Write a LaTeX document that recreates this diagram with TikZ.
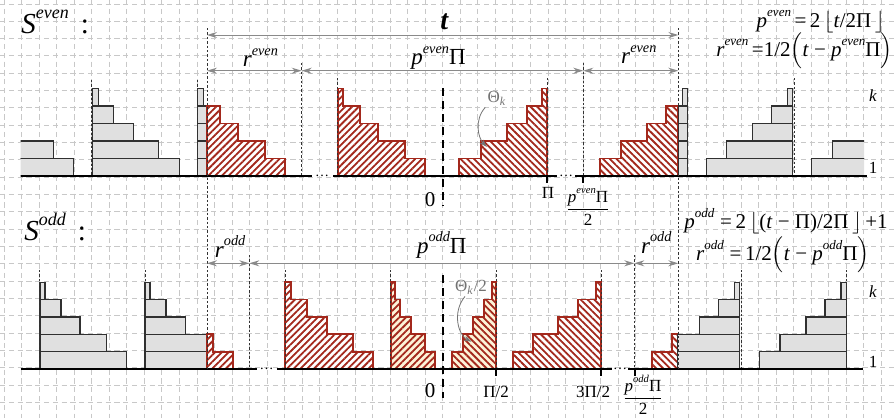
\documentclass[tikz,border=0pt]{standalone}
\usepackage{fontspec}
\usepackage{graphicx}
\setmainfont{Liberation Serif}
\usetikzlibrary{arrows.meta, patterns.meta, calc}
\definecolor{HatchRed}{HTML}{A3281C}
\definecolor{CreamB}{HTML}{FDF3D8}
\definecolor{BarGray}{HTML}{E0E0E0}
\definecolor{BarEdge}{HTML}{303030}
\definecolor{GridGray}{HTML}{C8C8C8}
\definecolor{DimGray}{HTML}{8A8A8A}
\tikzset{
  gridln/.style={draw=GridGray, line width=0.5pt, dash pattern=on 2.6pt off 1.8pt},
  bar/.style={fill=BarGray, draw=BarEdge, line width=0.7pt},
  hatchD/.style={preaction={fill=#1}, draw=HatchRed, line width=0.85pt, pattern={Lines[angle=45,distance=2.4pt,line width=0.9pt]}, pattern color=HatchRed},
  hatchD/.default=white,
  hatchA/.style={preaction={fill=#1}, draw=HatchRed, line width=0.85pt, pattern={Lines[angle=-45,distance=2.4pt,line width=0.9pt]}, pattern color=HatchRed},
  hatchA/.default=white,
  guide/.style={draw=black!80, line width=0.4pt, dash pattern=on 1.2pt off 1pt},
  axis/.style={draw=black, line width=0.6pt},
  zero/.style={draw=black, line width=1pt, dash pattern=on 4pt off 2.5pt},
  tick/.style={draw=black, line width=1pt},
  dim/.style={{Stealth[length=5pt,width=3pt]}-{Stealth[length=5pt,width=3pt]}, draw=DimGray, line width=0.5pt},
  lbl/.style={font=\fontsize{11.5}{13}\selectfont, inner sep=0pt},
  eq/.style={font=\fontsize{10.5}{12}\selectfont, inner sep=0pt},
  ax/.style={font=\fontsize{8.5}{10}\selectfont, inner sep=0pt},
  dotsl/.style={font=\fontsize{7}{8}\selectfont, inner sep=0pt},
  theta/.style={font=\fontsize{8.5}{10}\selectfont, text=black!55, inner sep=1pt},
  pointer/.style={-{Stealth[length=4pt,width=2.5pt]}, draw=black!55, line width=0.4pt}
}
\newcommand{\upix}[2]{\textit{#1}\raisebox{0.5em}{\scalebox{0.62}{\textit{#2}}}}
\newcommand{\stpsize}{17.5}
% staircase: style, fixed edge x, baseline y, free ends bottom to top
\newcommand{\stairs}[4]{\draw[#1] (#2,#3) \foreach \xe [count=\i from 0] in {#4} { -- (\xe,{#3-\stpsize*\i}) -- (\xe,{#3-\stpsize*(\i+1)}) } -| (#2,#3) -- cycle;}
% stacked bars: style, fixed edge x, baseline y, free ends bottom to top
\newcommand{\bars}[4]{\foreach \xe [count=\i from 0] in {#4} {\draw[#1] (#2,{#3-\stpsize*\i}) rectangle (\xe,{#3-\stpsize*(\i+1)});}}

\begin{document}
\begin{tikzpicture}[x=0.5pt, y=-0.5pt]
  \useasboundingbox (0,0) rectangle (895,418);
  \fill[white] (0,0) rectangle (895,418);
  % grid
  \foreach \i in {0,...,50} \draw[gridln] ({4+17.55*\i},0) -- ({4+17.55*\i},418);
  \foreach \j in {0,...,23} \draw[gridln] (0,{4+17.32*\j}) -- (895,{4+17.32*\j});

  % S even row
  \renewcommand{\stpsize}{17.5}
  \begin{scope}
    \clip (20.7,0) rectangle (120,418);
    \bars{bar}{0}{176}{73.3,53.3}
  \end{scope}
  \bars{bar}{92.7}{176}{179.3,158.3,133.3,113.3,98.3}
  \bars{bar}{197.7}{176}{207.3,207.3,207.3,207.3,203.3}
  \stairs{hatchD}{207.3}{176}{285,265,238.3,220}
  \stairs{hatchD}{337.7}{176}{425,405,378.3,360,343.3}
  \stairs{hatchA}{547.3}{176}{459.3,480.7,506.7,526.7,542.3}
  \stairs{hatchA}{678.3}{176}{600,621,646.7,666}
  \bars{bar}{687.3}{176}{678.3,678.3,678.3,678.3,682.3}
  \bars{bar}{792.7}{176}{706.7,726.7,752.7,771.7,787.7}
  \begin{scope}
    \clip (700,0) rectangle (864,418);
    \bars{bar}{890}{176}{811.7,832.7}
  \end{scope}
  \foreach \gx/\gy in {91.7/80, 197.3/80, 301.7/63, 337.7/78, 547.3/78, 583.3/63, 794/78}
    \draw[guide] (\gx,\gy) -- (\gx,176);
  \draw[axis] (20.7,176) -- (311.7,176);
  \draw[axis] (333,176) -- (557,176);
  \draw[axis] (575,176) -- (867,176);
  \node[dotsl, anchor=base] (dotsE1) at (322,176) {…};
  \node[dotsl, anchor=base] (dotsE2) at (566,176) {…};
  \draw[zero] (442.5,88) -- (442.5,206);
  \draw[tick] (547.3,176) -- (547.3,183);
  \draw[tick] (583.3,176) -- (583.3,183);

  % S odd row
  \renewcommand{\stpsize}{17.35}
  \bars{bar}{40}{369}{126.7,106.7,80,61,45}
  \bars{bar}{145}{369}{207.3,207.3,185.7,166,150}
  \stairs{hatchD}{207.3}{369}{233.3,213.3}
  \stairs{hatchD}{285}{369}{373.3,353.3,326.7,306.7,291}
  \stairs{hatchD=CreamB}{390.7}{369}{435,425,410.7,400,395}
  \stairs{hatchA=CreamB}{496}{369}{451.7,462.7,473.3,484.3,491.7}
  \stairs{hatchA}{601}{369}{512.7,533.3,558.3,578.3,596}
  \stairs{hatchA}{677.7}{369}{652.3,672.3}
  \bars{bar}{739.3}{369}{677.7,677.7,699.3,718.3,734.3}
  \bars{bar}{846.7}{369}{759.3,780,806,825,841}
  \foreach \gx/\gy in {39.3/270, 145/270, 249.3/255, 285/270, 390.7/270, 496/270, 601/270, 634.3/255, 741.7/270, 846.7/270}
    \draw[guide] (\gx,\gy) -- (\gx,369);
  \draw[axis] (20.7,369) -- (256.7,369);
  \draw[axis] (276.7,369) -- (611.7,369);
  \draw[axis] (628,369) -- (863,369);
  \node[dotsl, anchor=base] (dotsO1) at (266.7,369) {…};
  \node[dotsl, anchor=base] (dotsO2) at (620,369) {…};
  \draw[zero] (442.5,275) -- (442.5,398);
  \draw[tick] (496,369) -- (496,376);
  \draw[tick] (601,369) -- (601,376);
  \draw[tick] (635,369) -- (635,376);

  % long guides
  \draw[guide] (207,28) -- (207,369);
  \draw[guide] (678.3,28) -- (678.3,369);

  % dimension arrows
  \coordinate (tA) at (207,35);
  \coordinate (tB) at (678.3,35);
  \coordinate (rA) at (207,70.7);
  \coordinate (rB) at (301.7,70.7);
  \coordinate (rC) at (583.3,70.7);
  \coordinate (rD) at (678.3,70.7);
  \coordinate (sA) at (207,263.3);
  \coordinate (sB) at (249.3,263.3);
  \coordinate (sC) at (634.3,263.3);
  \coordinate (sD) at (678.3,263.3);
  \draw[dim] (tA) -- (tB) node[lbl, midway, anchor=base, yshift=3pt, xshift=1pt, font=\fontsize{14}{16}\selectfont] {\textbf{\textit{t}}};
  \draw[dim] (rA) -- (rB) node[lbl, midway, anchor=base, yshift=2pt, xshift=3pt] {\upix{r}{even}};
  \draw[dim] (rB) -- (rC) node[lbl, midway, anchor=base, yshift=3pt, xshift=-2pt] {\upix{p}{even}Π};
  \draw[dim] (rC) -- (rD) node[lbl, midway, anchor=base, yshift=3.5pt, xshift=4pt] {\upix{r}{even}};
  \draw[dim] (sA) -- (sB) node[lbl, midway, anchor=base, yshift=3pt, xshift=1pt] {\upix{r}{odd}};
  \draw[dim] (sB) -- (sC) node[lbl, midway, anchor=base, yshift=5pt] {\upix{p}{odd}Π};
  \draw[dim] (sC) -- (sD) node[lbl, midway, anchor=base, yshift=5pt] {\upix{r}{odd}};

  % titles and formulas
  \node[lbl, anchor=base west, font=\fontsize{14.5}{17}\selectfont] (sEven) at (21,33) {\upix{S}{even}\hspace{6pt}:};
  \node[lbl, anchor=base west, font=\fontsize{14.5}{17}\selectfont] (sOdd) at (24,240) {\upix{S}{odd}\hspace{6pt}:};
  \node[eq, anchor=base east] (eqPe) at (885,27) {\upix{p}{even}\,=\,2\,$\big\lfloor$\textit{t}/2Π\,$\big\rfloor$};
  \node[eq, anchor=base east] (eqRe) at (893,56) {\upix{r}{even}\,=1/2$\Big($\textit{t} − \upix{p}{even}Π$\Big)$};
  \node[eq, anchor=base east] (eqPo) at (888,228) {\upix{p}{odd}\;=\,2\,$\big\lfloor$(\textit{t} − Π)/2Π\,$\big\rfloor$\,+1};
  \node[eq, anchor=base east] (eqRo) at (870,260) {\upix{r}{odd}\;=\,1/2$\Big($\textit{t} − \upix{p}{odd}Π$\Big)$};

  % axis labels
  \node[ax, anchor=base, font=\fontsize{10.5}{12}\selectfont] (zeroE) at (430,206) {0};
  \node[ax, anchor=base] (piE) at (548,198) {Π};
  \node[ax] (fracE) at (588,207) {$\displaystyle\frac{\mbox{\upix{p}{even}Π}}{\mbox{2}}$};
  \node[ax, anchor=base, font=\fontsize{10.5}{12}\selectfont] (zeroO) at (430,397) {0};
  \node[ax, anchor=base] (halfPi) at (496,397) {Π/2};
  \node[ax, anchor=base] (threeHalfPi) at (593,397) {3Π/2};
  \node[ax] (fracO) at (643,395) {$\displaystyle\frac{\mbox{\upix{p}{odd}Π}}{\mbox{2}}$};
  \node[ax, anchor=base] (kE) at (873,101) {\textit{k}};
  \node[ax, anchor=base] (oneE) at (873,173) {1};
  \node[ax, anchor=base] (kO) at (873,297) {\textit{k}};
  \node[ax, anchor=base] (oneO) at (873,367) {1};

  % theta pointers
  \node[theta] (thK) at (497,98) {Θ\textsubscript{\textit{k}}};
  \coordinate (thKend) at (487,147);
  \draw[pointer] (thK.south west) .. controls (474,120) and (478,138) .. (thKend);
  \node[theta] (thKh) at (471,287) {Θ\textsubscript{\textit{k}}/2};
  \coordinate (thKhend) at (471.7,341.7);
  \draw[pointer] ($(thKh.south)+(-6,0)$) .. controls (452,312) and (458,335) .. (thKhend);
\end{tikzpicture}
\end{document}
